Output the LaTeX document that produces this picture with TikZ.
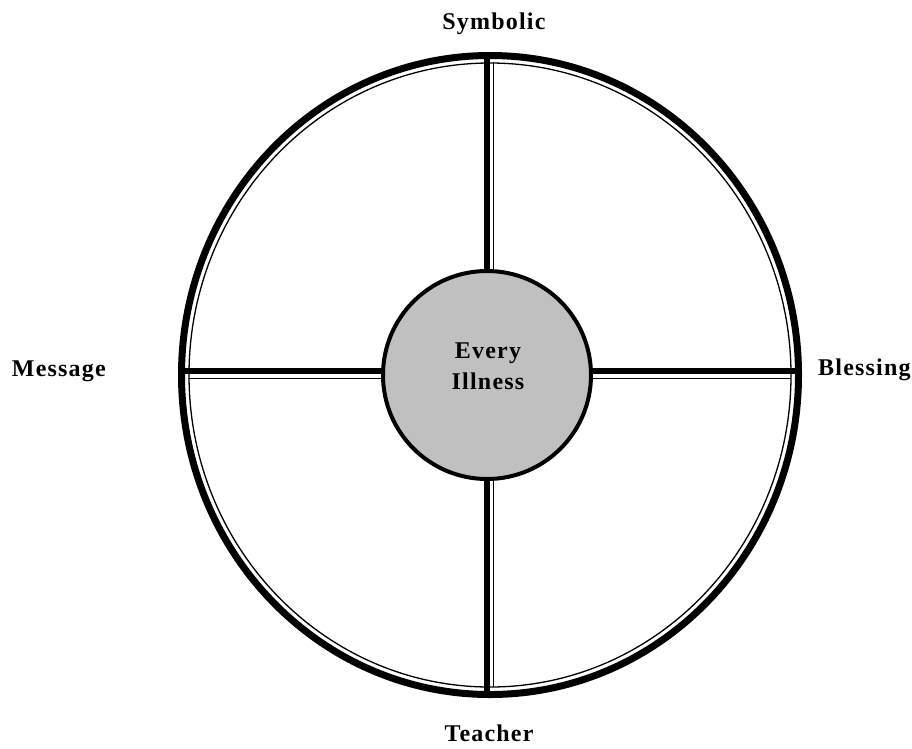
\documentclass[tikz,border=0pt]{standalone}
\usepackage{fontspec}
\setmainfont{Liberation Serif}[LetterSpace=5]
\usepackage{xcolor}
\usetikzlibrary{positioning}

\definecolor{hubgray}{HTML}{C0C0C0}

\begin{document}
\begin{tikzpicture}[x=1pt,y=-1pt,
    every node/.style={font=\bfseries\fontsize{24}{31}\selectfont,inner sep=0pt},
    rim/.style={line width=7pt},
    spoke/.style={line width=5.5pt},
    trim/.style={line width=1.3pt}]
  \useasboundingbox (0,0) rectangle (912,748);
  \coordinate (O) at (490,375);
  % the wheel: heavy rim with a thin inner line
  \draw[rim] (O) ellipse [x radius=308.5pt, y radius=319.5pt];
  \draw[trim] (O) ellipse [x radius=301pt, y radius=312pt];
  \node[draw,circle,fill=hubgray,line width=4pt,minimum size=208pt] (hub) at (487,375) {};
  \node[align=center] (hubtext) at (488,366.5) {Every\\Illness};
  % spokes
  \coordinate (top) at (487,55);
  \coordinate (bot) at (487,696);
  \coordinate (lft) at (181,371);
  \coordinate (rgt) at (799,371);
  \draw[spoke] (top) -- (top |- hub.north);
  \draw[spoke] (bot) -- (bot |- hub.south);
  \draw[spoke] (lft) -- (lft -| hub.west);
  \draw[spoke] (rgt) -- (rgt -| hub.east);
  \draw[trim] (493.5,62) -- ([xshift=6.5pt]top |- hub.north);
  \draw[trim] (493.5,687) -- ([xshift=6.5pt]bot |- hub.south);
  \draw[trim] (189,378.5) -- ([yshift=-7.5pt]lft -| hub.west);
  \draw[trim] (791,378.5) -- ([yshift=-7.5pt]rgt -| hub.east);
  % labels
  \node[above=20pt of top,xshift=7pt] (symbolic) {Symbolic};
  \node[below=29pt of bot,xshift=2pt] (teacher) {Teacher};
  \node[left=75pt of lft] (message) {Message};
  \node[right=19pt of rgt,yshift=1.5pt] (blessing) {Blessing};
\end{tikzpicture}
\end{document}
